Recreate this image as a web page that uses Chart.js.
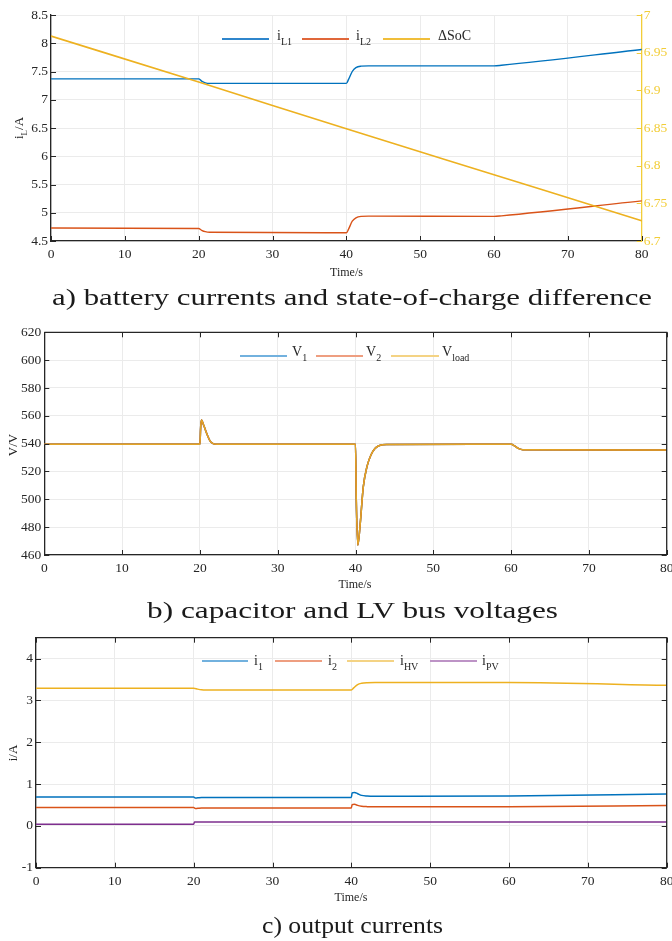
<!DOCTYPE html>
<html><head><meta charset="utf-8">
<script src="https://cdn.jsdelivr.net/npm/chart.js@4.4.1/dist/chart.umd.min.js"></script>
<style>
html,body{margin:0;padding:0;background:#fff;}
body{width:672px;height:941px;position:relative;overflow:hidden;font-family:'Liberation Serif',serif;color:#262626;}
canvas{position:absolute;left:0;}
.t{position:absolute;white-space:nowrap;line-height:1;font-size:12px;}
.rot{transform:translate(-50%,-50%) rotate(-90deg);}
.ctr{transform:translate(-50%,-50%);}
.cap{position:absolute;white-space:nowrap;font-size:24px;line-height:24px;transform-origin:left top;color:#1a1a1a;}
.lg{position:absolute;height:2px;}
.lt{position:absolute;font-size:14px;line-height:14px;white-space:nowrap;}
.s{font-size:10px;position:relative;top:5px;}
.s2{font-size:9px;position:relative;top:4px;}
</style>
</head><body>
<canvas id="ca" width="700" height="280" style="top:0px"></canvas>
<canvas id="cb" width="700" height="290" style="top:300px"></canvas>
<canvas id="cc" width="700" height="300" style="top:610px"></canvas>

<div class="t rot" style="left:18px;top:128px;font-size:13px">i<span class="s2">L</span>/A</div>
<div class="t rot" style="left:12px;top:445px;font-size:13px">V/V</div>
<div class="t rot" style="left:12px;top:753px;font-size:13px">i/A</div>
<div class="t ctr" style="left:346.5px;top:271.5px">Time/s</div>
<div class="t ctr" style="left:355px;top:584px">Time/s</div>
<div class="t ctr" style="left:351px;top:896.7px">Time/s</div>

<div id="legends"></div>

<div id="capA" class="cap">a) battery currents and state-of-charge difference</div>
<div id="capB" class="cap">b) capacitor and LV bus voltages</div>
<div id="capC" class="cap">c) output currents</div>

<script>
// ---------- DATA ----------
const xTicks = [0, 10, 20, 30, 40, 50, 60, 70, 80];
const xTickLabels = ['0', '10', '20', '30', '40', '50', '60', '70', '80'];

// Chart a
const yTicksA = [4.5, 5, 5.5, 6, 6.5, 7, 7.5, 8, 8.5];
const yTickLabelsA = ['4.5', '5', '5.5', '6', '6.5', '7', '7.5', '8', '8.5'];
const y1TicksA = [6.7, 6.75, 6.8, 6.85, 6.9, 6.95, 7];
const y1TickLabelsA = ['6.7', '6.75', '6.8', '6.85', '6.9', '6.95', '7'];
const tL1 = [0, 20, 20.4, 20.9, 21.5, 40, 40.3, 40.8, 41.3, 42, 43, 60, 61, 80];
const iL1 = [7.37, 7.37, 7.33, 7.30, 7.29, 7.29, 7.36, 7.50, 7.57, 7.595, 7.60, 7.60, 7.61, 7.89];
const tL2 = [0, 20, 20.4, 20.9, 21.5, 40, 40.3, 40.8, 41.3, 42, 43, 60, 61, 80];
const iL2 = [4.73, 4.72, 4.69, 4.665, 4.655, 4.645, 4.71, 4.85, 4.91, 4.935, 4.94, 4.935, 4.945, 5.21];
const tSoC = [0, 20, 40, 60, 80];
const dSoC = [6.972, 6.911, 6.849, 6.788, 6.727];

// Chart b
const yTicksB = [460, 480, 500, 520, 540, 560, 580, 600, 620];
const yTickLabelsB = ['460', '480', '500', '520', '540', '560', '580', '600', '620'];
const tV = [0, 20, 20.1, 20.2, 20.5, 20.9, 21.3, 21.7, 22.2, 40, 40.1, 40.3, 40.6, 41, 41.5, 42, 42.5, 43, 44, 60, 60.5, 61, 61.5, 80];
const V1 = [539.5, 539.5, 552, 557, 553, 547, 542, 540, 539.5, 539.5, 500, 467, 482, 509, 524, 532, 536.5, 538.5, 539.4, 539.5, 538.2, 536.4, 535.7, 535.5];
const V2 = [539.5, 539.5, 552, 557, 553, 547, 542, 540, 539.5, 539.5, 500, 467, 482, 509, 524, 532, 536.5, 538.5, 539.4, 539.5, 538.2, 536.4, 535.7, 535.5];
const Vload = [539.5, 539.5, 552, 557, 553, 547, 542, 540, 539.5, 539.5, 500, 467, 482, 509, 524, 532, 536.5, 538.5, 539.4, 539.5, 538.2, 536.4, 535.7, 535.5];

// Chart c
const yTicksC = [-1, 0, 1, 2, 3, 4];
const yTickLabelsC = ['-1', '0', '1', '2', '3', '4'];
const tHV = [0, 20, 20.5, 21, 21.5, 40, 40.3, 40.8, 41.3, 42, 43, 60, 80];
const iHV = [3.29, 3.29, 3.27, 3.255, 3.25, 3.25, 3.30, 3.38, 3.41, 3.425, 3.43, 3.43, 3.36];
const t1 = [0, 20, 20.2, 20.5, 21, 40, 40.1, 40.4, 40.8, 41.3, 42, 43, 60, 80];
const i1 = [0.69, 0.69, 0.665, 0.67, 0.68, 0.68, 0.79, 0.80, 0.77, 0.73, 0.715, 0.71, 0.715, 0.76];
const t2 = [0, 20, 20.2, 20.5, 21, 40, 40.1, 40.4, 40.8, 41.3, 42, 43, 60, 80];
const i2 = [0.44, 0.44, 0.415, 0.42, 0.43, 0.43, 0.51, 0.52, 0.49, 0.47, 0.46, 0.455, 0.455, 0.49];
const tPV = [0, 20, 20.1, 80];
const iPV = [0.04, 0.04, 0.09, 0.095];

// ---------- STYLE ----------
const C = {blue:'#0072BD', orange:'#D95319', yellow:'#EDB120', purple:'#7E2F8E', axis:'#262626', grid:'#ebebeb', right:'#F2CD38'};
const FONT = {family:"'Liberation Serif', serif", size:13.5};

function pts(t, v){ return t.map((x,i)=>({x:x, y:v[i]})); }
function setTicks(vals){ return s => { s.ticks = vals.map(v=>({value:v})); }; }

const boxPlugin = {
  id:'box',
  afterDatasetsDraw(chart, args, opts){
    const ctx = chart.ctx, a = chart.chartArea, L = 5;
    const xs = chart.scales.x, ys = chart.scales.y;
    ctx.save();
    ctx.strokeStyle = C.axis; ctx.lineWidth = 1;
    ctx.beginPath();
    xs.ticks.forEach(t=>{
      const p = Math.round(xs.getPixelForValue(t.value))+0.5;
      ctx.moveTo(p, a.bottom); ctx.lineTo(p, a.bottom - L);
      if (opts.box){ ctx.moveTo(p, a.top); ctx.lineTo(p, a.top + L); }
    });
    ys.ticks.forEach(t=>{
      const p = Math.round(ys.getPixelForValue(t.value))+0.5;
      ctx.moveTo(a.left, p); ctx.lineTo(a.left + L, p);
      if (opts.box){ ctx.moveTo(a.right, p); ctx.lineTo(a.right - L, p); }
    });
    ctx.stroke();
    if (opts.box){
      ctx.lineWidth = 1.3;
      ctx.beginPath();
      ctx.moveTo(a.left, a.top); ctx.lineTo(a.right, a.top); ctx.lineTo(a.right, a.bottom);
      ctx.stroke();
    }
    if (chart.scales.y1){
      const y1 = chart.scales.y1;
      ctx.strokeStyle = C.right; ctx.lineWidth = 1.2;
      ctx.beginPath();
      y1.ticks.forEach(t=>{
        const p = Math.round(y1.getPixelForValue(t.value))+0.5;
        ctx.moveTo(a.right, p); ctx.lineTo(a.right - L, p);
      });
      ctx.stroke();
    }
    ctx.restore();
  }
};

function xScale(pad){
  return {type:'linear', min:0, max:80, afterBuildTicks:setTicks(xTicks),
    ticks:{callback:(v,i)=>xTickLabels[i], font:FONT, color:C.axis, padding:pad, maxRotation:0, autoSkip:false},
    grid:{color:C.grid, drawTicks:false, lineWidth:1}, border:{color:C.axis, width:1.3},
    afterFit:s=>{s.height=20;}};
}
function yScale(min, max, vals, labels, w, extra){
  return Object.assign({type:'linear', position:'left', min:min, max:max, afterBuildTicks:setTicks(vals),
    ticks:{callback:(v,i)=>labels[i], font:FONT, color:C.axis, padding:3, autoSkip:false},
    grid:{color:C.grid, drawTicks:false, lineWidth:1}, border:{color:C.axis, width:1.3},
    afterFit:s=>{s.width=w;}}, extra||{});
}
function baseOpts(pad, scales, box){
  return {responsive:false, animation:false, devicePixelRatio:1,
    layout:{padding:pad},
    plugins:{legend:{display:false}, tooltip:{enabled:false}, box:{box:box}},
    elements:{point:{radius:0}, line:{cubicInterpolationMode:'monotone', borderCapStyle:'round', borderJoinStyle:'round'}},
    scales:scales};
}
function ds(t, v, color, w, extra){
  return Object.assign({data:pts(t,v), borderColor:color, borderWidth:w, fill:false}, extra||{});
}

// Chart a
new Chart(document.getElementById('ca'), {
  type:'line',
  data:{datasets:[
    ds(tSoC, dSoC, C.yellow, 1.6, {yAxisID:'y1', order:0}),
    ds(tL1, iL1, C.blue, 1.4, {yAxisID:'y', order:1}),
    ds(tL2, iL2, C.orange, 1.4, {yAxisID:'y', order:2})
  ]},
  options:baseOpts({top:15, left:0, right:28, bottom:19}, {
    x:xScale(5),
    y:yScale(4.5, 8.5, yTicksA, yTickLabelsA, 51),
    y1:{type:'linear', position:'right', min:6.7, max:7, afterBuildTicks:setTicks(y1TicksA),
      ticks:{callback:(v,i)=>y1TickLabelsA[i], font:FONT, color:C.right, padding:2, autoSkip:false},
      grid:{drawOnChartArea:false, drawTicks:false}, border:{color:C.right, width:1.3},
      afterFit:s=>{s.width=30.3;}}
  }, false),
  plugins:[boxPlugin]
});

// Chart b
new Chart(document.getElementById('cb'), {
  type:'line',
  data:{datasets:[
    ds(tV, V1, C.blue, 1.5, {order:2}),
    ds(tV, V2, C.orange, 1.5, {order:1}),
    ds(tV, Vload, '#E3A526', 1.5, {order:0})
  ]},
  options:baseOpts({top:32.3, left:0, right:33.3, bottom:15}, {
    x:xScale(5),
    y:yScale(460, 620, yTicksB, yTickLabelsB, 44.3)
  }, true),
  plugins:[boxPlugin]
});

// Chart c
new Chart(document.getElementById('cc'), {
  type:'line',
  data:{datasets:[
    ds(t1, i1, C.blue, 1.5),
    ds(t2, i2, C.orange, 1.5),
    ds(tHV, iHV, C.yellow, 1.5),
    ds(tPV, iPV, C.purple, 1.5)
  ]},
  options:baseOpts({top:27.7, left:0, right:33.3, bottom:22.3}, {
    x:xScale(6),
    y:yScale(-1, 4.5, yTicksC, yTickLabelsC, 36)
  }, true),
  plugins:[boxPlugin]
});

// ---------- LEGENDS ----------
const legendItems = [
  {x0:221.7, x1:269.3, y:39, tx:277, base:41, color:'#2F86CC', html:'i<span class="s">L1</span>'},
  {x0:302, x1:349.3, y:39, tx:356, base:41, color:'#E0673A', html:'i<span class="s">L2</span>'},
  {x0:382.7, x1:430, y:39, tx:438, base:41, color:'#F0BE3A', html:'&Delta;SoC'},
  {x0:240, x1:287.3, y:355.7, tx:292, base:357, color:'#72B1DE', html:'V<span class="s">1</span>'},
  {x0:316, x1:362.7, y:355.7, tx:366, base:357, color:'#EE9E80', html:'V<span class="s">2</span>'},
  {x0:391.3, x1:438.7, y:355.7, tx:442, base:357, color:'#F4D384', html:'V<span class="s">load</span>'},
  {x0:201.7, x1:248.3, y:661, tx:254, base:666, color:'#72B1DE', html:'i<span class="s">1</span>'},
  {x0:275, x1:321.7, y:661, tx:328, base:666, color:'#EE9E80', html:'i<span class="s">2</span>'},
  {x0:347.3, x1:394, y:661, tx:400, base:666, color:'#F4D384', html:'i<span class="s">HV</span>'},
  {x0:430, x1:476.7, y:661, tx:482, base:666, color:'#BD93C6', html:'i<span class="s">PV</span>'}
];
const lg = document.getElementById('legends');
legendItems.forEach(it=>{
  const l = document.createElement('div');
  l.className = 'lg';
  l.style.left = it.x0+'px'; l.style.width = (it.x1-it.x0)+'px';
  l.style.top = (it.y-1)+'px'; l.style.background = it.color;
  lg.appendChild(l);
  const t = document.createElement('div');
  t.className = 'lt';
  t.style.left = it.tx+'px'; t.style.top = (it.base-11.7)+'px';
  t.innerHTML = it.html;
  lg.appendChild(t);
});

// ---------- CAPTIONS ----------
function placeCap(id, x0, x1, baseline){
  const el = document.getElementById(id);
  const w = el.getBoundingClientRect().width;
  el.style.left = x0+'px';
  el.style.top = (baseline-20.1)+'px';
  el.style.transform = 'scaleX('+((x1-x0)/w)+')';
}
placeCap('capA', 52, 652, 305);
placeCap('capB', 147, 558, 618);
placeCap('capC', 262, 443, 933);
</script>
</body></html>
